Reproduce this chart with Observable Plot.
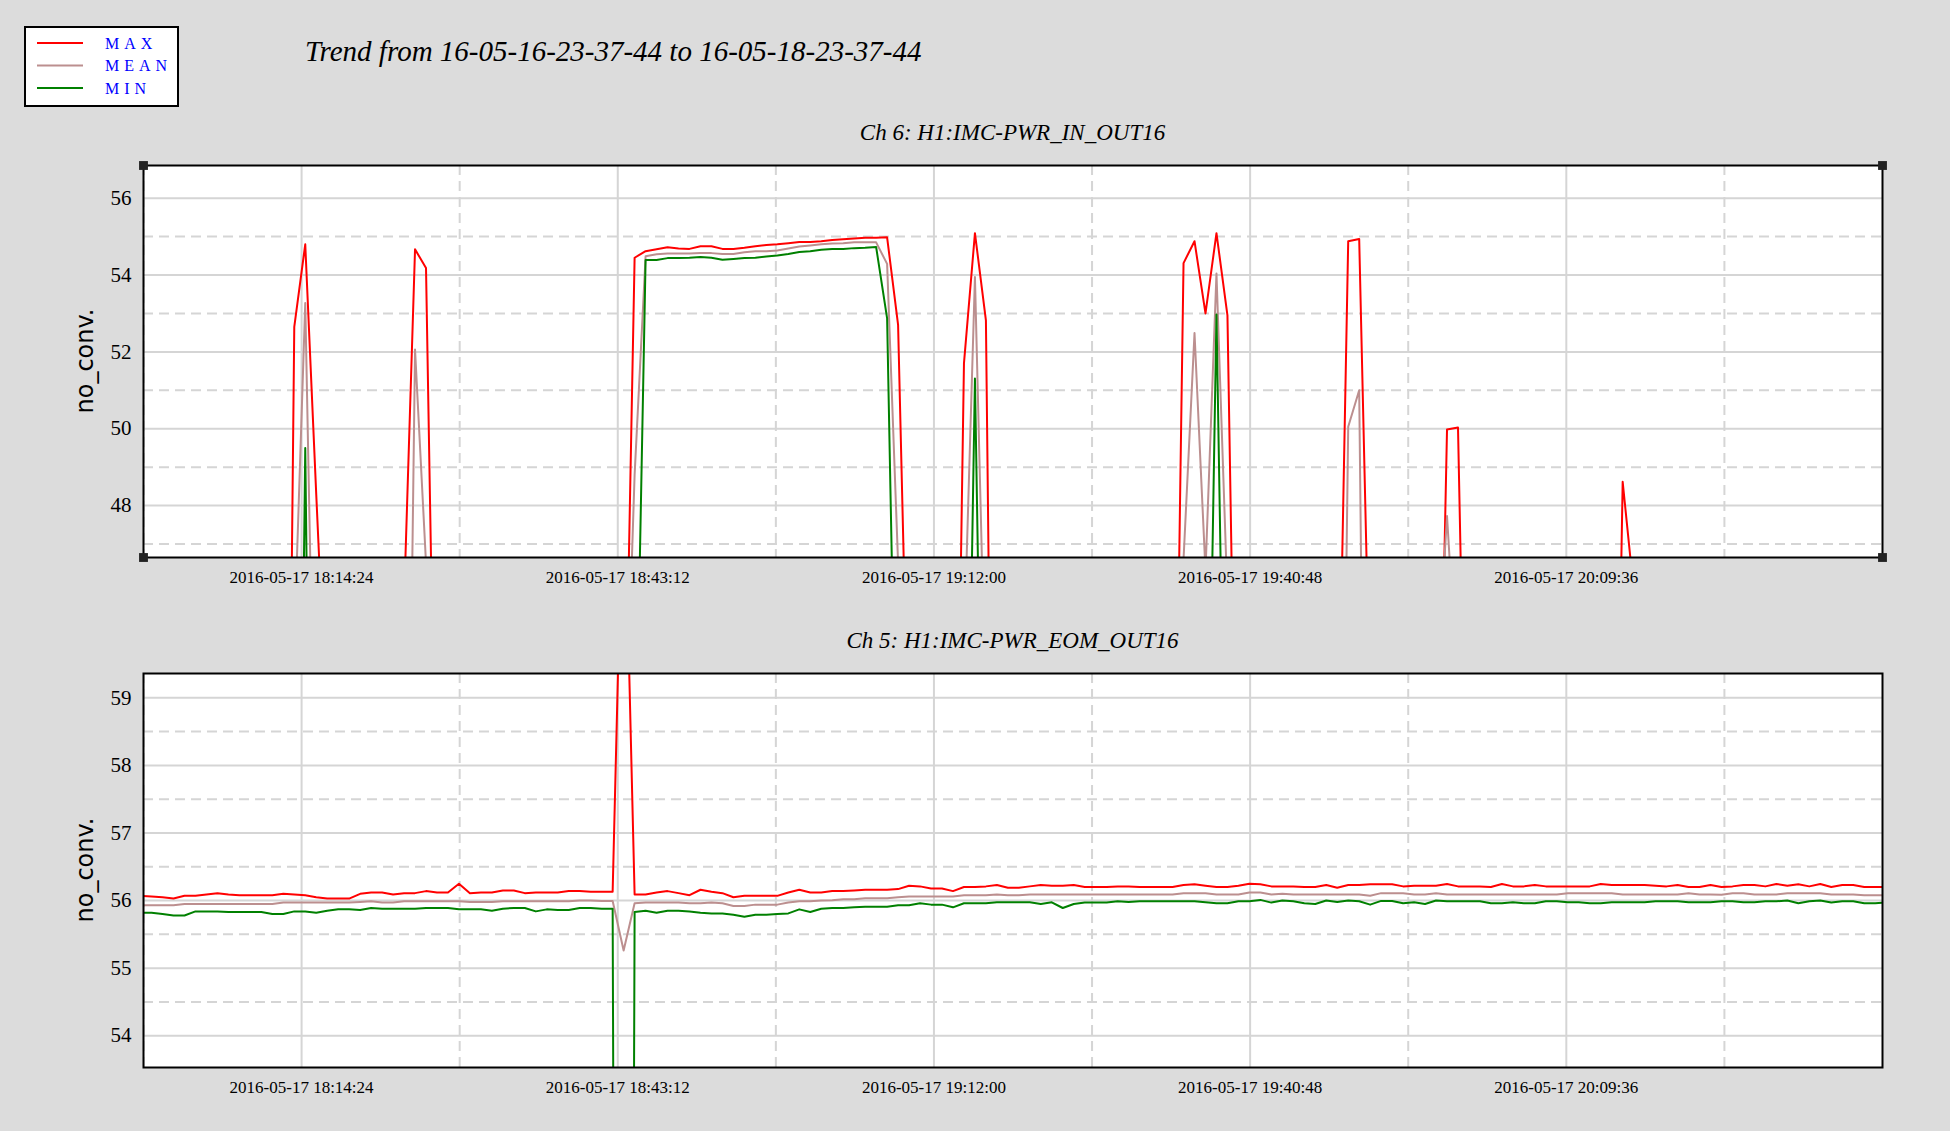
<!DOCTYPE html>
<html>
<head>
<meta charset="utf-8">
<script src="https://cdn.jsdelivr.net/npm/d3@7"></script>
<script src="https://cdn.jsdelivr.net/npm/@observablehq/plot@0.6"></script>
<style>
  html, body { margin: 0; padding: 0; background: #dcdcdc; }
  body { width: 1950px; height: 1131px; position: relative; overflow: hidden; }
  .chart { position: absolute; left: 0; }
  .chart svg text { font-family: 'Liberation Serif', 'Times New Roman', serif; }
  #overlay { position: absolute; left: 0; top: 0; pointer-events: none; }
</style>
</head>
<body>
<div id="top" class="chart" style="top:145px"></div>
<div id="bottom" class="chart" style="top:653px"></div>
<svg id="overlay" width="1950" height="1131"></svg>
<script>
// ---------- data ----------
const titleText = "Trend from 16-05-16-23-37-44 to 16-05-18-23-37-44";
const topChannel = "Ch 6: H1:IMC-PWR_IN_OUT16";
const bottomChannel = "Ch 5: H1:IMC-PWR_EOM_OUT16";
const yLabel = "no_conv.";
const seriesNames = ["MAX", "MEAN", "MIN"];
const seriesColors = ["#ff0000", "#bc8f8f", "#008000"];

// minute trend samples: index = minutes after sampleStart
const sampleStart = "2016-05-17T17:59:44Z";
const xStart = "2016-05-17T18:00:00Z";
const xEnd = "2016-05-17T20:38:24Z";
const xTickLabels = ["2016-05-17 18:14:24", "2016-05-17 18:43:12", "2016-05-17 19:12:00", "2016-05-17 19:40:48", "2016-05-17 20:09:36"];
const xMinorTicks = ["2016-05-17 18:00:00", "2016-05-17 18:28:48", "2016-05-17 18:57:36", "2016-05-17 19:26:24", "2016-05-17 19:55:12", "2016-05-17 20:24:00"];

// Ch 6 (sparse [minute, value]; values below the axis are off-scale lows)
const topMax = [[0,30],[13,25],[14,52.65],[15,54.8],[16,48.3],[17,42],[24,45.5],[25,54.67],[26,54.18],[27,37.6],
  [44,39.5],[45,54.45],[46,54.62],[47,54.67],[48,54.72],[49,54.69],[50,54.68],[51,54.75],[52,54.75],[53,54.68],[54,54.68],
  [55,54.71],[56,54.75],[57,54.78],[58,54.80],[59,54.83],[60,54.86],[61,54.86],[62,54.88],[63,54.91],[64,54.93],[65,54.95],
  [66,54.97],[67,54.97],[68,54.98],[69,52.7],[70,40.8],[74,33],[75,51.7],[76,55.09],[77,52.82],[78,27],
  [94,34.8],[95,54.31],[96,54.88],[97,53.0],[98,55.09],[99,52.95],[100,36],[109,39.8],[110,54.88],[111,54.94],[112,42.5],
  [118,36.2],[119,49.98],[120,50.03],[121,36],[134,32],[135,48.62],[136,45.8],[137,30],[159,30]];
const topMean = [[0,30],[14,44.5],[15,53.27],[16,38.7],[24,30],[25,52.06],[26,46.5],[27,30],
  [44,40],[45,48.8],[46,54.49],[47,54.54],[48,54.56],[49,54.56],[50,54.56],[51,54.57],[52,54.57],[53,54.55],[54,54.55],
  [55,54.59],[56,54.62],[57,54.62],[58,54.64],[59,54.69],[60,54.74],[61,54.77],[62,54.80],[63,54.82],[64,54.83],[65,54.85],
  [66,54.85],[67,54.85],[68,54.29],[69,46.5],[70,35],[75,44.3],[76,53.95],[77,42.4],
  [94,30],[95,46.6],[96,52.49],[97,46.3],[98,54.04],[99,45.6],[100,30],[109,28],[110,50.05],[111,51.0],[112,25],
  [118,43],[119,47.73],[120,43],[159,30]];
const topMin = [[0,30],[14,25],[15,49.5],[16,25],[44,30],[45,39.5],[46,54.39],[47,54.39],[48,54.44],[49,54.44],[50,54.45],
  [51,54.47],[52,54.45],[53,54.40],[54,54.42],[55,54.44],[56,54.45],[57,54.48],[58,54.51],[59,54.55],[60,54.60],[61,54.62],
  [62,54.66],[63,54.68],[64,54.68],[65,54.70],[66,54.71],[67,54.73],[68,52.87],[69,38.2],[75,34],[76,51.31],[77,34],
  [97,36],[98,52.97],[99,36],[159,30]];
const topDomain = [46.65, 56.85];
const topMajorY = [48, 50, 52, 54, 56];
const topMinorY = [47, 49, 51, 53, 55];

// Ch 5 (one value per minute, minutes 0..159)
const bottomMax = [56.07,56.06,56.05,56.03,56.07,56.07,56.09,56.11,56.09,56.08,
  56.08,56.08,56.08,56.10,56.09,56.08,56.05,56.03,56.03,56.03,
  56.10,56.12,56.12,56.09,56.11,56.11,56.14,56.12,56.12,56.25,
  56.11,56.12,56.12,56.15,56.15,56.11,56.12,56.12,56.12,56.14,
  56.14,56.13,56.13,56.13,62.8,56.09,56.09,56.12,56.14,56.11,
  56.08,56.16,56.13,56.11,56.05,56.07,56.07,56.07,56.07,56.12,
  56.16,56.12,56.12,56.14,56.14,56.15,56.16,56.16,56.16,56.17,
  56.22,56.21,56.18,56.18,56.14,56.20,56.20,56.21,56.23,56.19,
  56.19,56.21,56.23,56.22,56.22,56.23,56.20,56.20,56.20,56.21,
  56.21,56.20,56.20,56.20,56.20,56.23,56.24,56.22,56.20,56.20,
  56.22,56.25,56.24,56.21,56.21,56.21,56.20,56.20,56.23,56.19,
  56.23,56.23,56.24,56.24,56.24,56.21,56.22,56.22,56.22,56.245,
  56.21,56.21,56.21,56.20,56.245,56.21,56.21,56.23,56.21,56.21,
  56.21,56.21,56.21,56.245,56.23,56.23,56.23,56.23,56.22,56.21,
  56.23,56.20,56.20,56.23,56.20,56.21,56.23,56.23,56.21,56.245,
  56.22,56.24,56.21,56.245,56.20,56.23,56.23,56.20,56.20,56.20];
const bottomMean = [55.93,55.93,55.93,55.93,55.95,55.95,55.95,55.95,55.95,55.95,
  55.95,55.95,55.95,55.97,55.97,55.97,55.97,55.97,55.97,55.97,
  55.98,55.99,55.97,55.97,55.99,55.99,55.99,55.99,55.99,55.99,
  55.98,55.98,55.98,55.99,55.99,55.99,55.99,55.99,55.99,55.99,
  56.00,56.00,55.995,55.995,55.26,55.96,55.97,55.97,55.97,55.97,
  55.96,55.96,55.97,55.96,55.92,55.92,55.94,55.94,55.94,55.97,
  55.99,55.99,56.00,56.005,56.02,56.02,56.035,56.035,56.035,56.05,
  56.06,56.06,56.06,56.06,56.06,56.08,56.08,56.08,56.09,56.08,
  56.08,56.09,56.09,56.09,56.09,56.09,56.09,56.09,56.09,56.09,
  56.09,56.09,56.09,56.09,56.09,56.11,56.11,56.11,56.09,56.09,
  56.09,56.12,56.12,56.09,56.10,56.09,56.09,56.09,56.09,56.09,
  56.09,56.09,56.07,56.11,56.11,56.11,56.09,56.09,56.11,56.09,
  56.09,56.09,56.09,56.09,56.09,56.09,56.09,56.09,56.09,56.09,
  56.11,56.11,56.11,56.11,56.11,56.09,56.09,56.09,56.09,56.09,
  56.09,56.11,56.09,56.09,56.085,56.11,56.11,56.09,56.09,56.09,
  56.11,56.11,56.11,56.11,56.09,56.09,56.09,56.08,56.08,56.08];
const bottomMin = [55.82,55.82,55.80,55.78,55.78,55.84,55.84,55.84,55.83,55.83,
  55.83,55.83,55.80,55.80,55.84,55.84,55.82,55.85,55.87,55.87,
  55.86,55.89,55.88,55.88,55.88,55.88,55.89,55.89,55.89,55.87,
  55.87,55.87,55.85,55.88,55.89,55.89,55.84,55.87,55.86,55.86,
  55.89,55.89,55.88,55.88,10,55.83,55.85,55.82,55.85,55.85,
  55.84,55.82,55.81,55.81,55.79,55.76,55.79,55.79,55.80,55.81,
  55.87,55.83,55.88,55.89,55.89,55.90,55.91,55.91,55.91,55.93,
  55.93,55.96,55.94,55.94,55.90,55.96,55.96,55.96,55.975,55.975,
  55.975,55.975,55.95,55.975,55.89,55.95,55.97,55.97,55.97,55.99,
  55.98,55.99,55.99,55.99,55.99,55.99,55.99,55.975,55.96,55.96,
  55.99,55.99,56.01,55.97,56.00,55.99,55.96,55.95,56.00,55.98,
  56.00,55.99,55.94,55.995,55.995,55.96,55.975,55.95,56.00,55.99,
  55.99,55.99,55.99,55.96,55.96,55.975,55.96,55.96,55.99,55.99,
  55.975,55.975,55.96,55.96,55.975,55.975,55.975,55.975,55.99,55.99,
  55.99,55.975,55.975,55.975,55.99,55.99,55.975,55.975,55.99,55.99,
  56.00,55.96,55.99,56.00,55.97,55.99,55.99,55.96,55.96,55.97];
const bottomDomain = [53.53, 59.36];
const bottomMajorY = [54, 55, 56, 57, 58, 59];
const bottomMinorY = [54.5, 55.5, 56.5, 57.5, 58.5];

// ---------- helpers ----------
const t0 = new Date(sampleStart).getTime();
const minuteTime = m => new Date(t0 + m * 60000);
const parseLabel = s => new Date(s.replace(" ", "T") + "Z");
const fmt = d3.utcFormat("%Y-%m-%d %H:%M:%S");
const xDomain = [new Date(xStart), new Date(xEnd)];
const majorX = xTickLabels.map(parseLabel);
const minorX = xMinorTicks.map(parseLabel);
const gridColor = "#d5d5d5";
const serif = "'Liberation Serif', 'Times New Roman', serif";

function sparseRows(pairs) { return pairs.map(([m, v]) => ({t: minuteTime(m), v})); }
function denseRows(vals) { return vals.map((v, m) => ({t: minuteTime(m), v})); }

function makeChart({series, yDomain, majorY, minorY, height, corners, strokeWidth}) {
  const marks = [
    Plot.frame({fill: "white", stroke: null}),
    Plot.gridX(minorX, {stroke: gridColor, strokeOpacity: 1, strokeWidth: 2, strokeDasharray: "10,6"}),
    Plot.gridX(majorX, {stroke: gridColor, strokeOpacity: 1, strokeWidth: 2}),
    Plot.gridY(minorY, {stroke: gridColor, strokeOpacity: 1, strokeWidth: 2, strokeDasharray: "10,6"}),
    Plot.gridY(majorY, {stroke: gridColor, strokeOpacity: 1, strokeWidth: 2}),
    ...series.map((rows, i) => Plot.line(rows, {x: "t", y: "v", stroke: seriesColors[i], strokeWidth, clip: true})),
    Plot.frame({stroke: "black", strokeWidth: 2}),
    Plot.axisX(majorX, {tickSize: 0, tickPadding: 13, tickFormat: fmt, fontSize: 17, fontFamily: serif, label: null}),
    Plot.axisY(majorY, {tickSize: 0, tickPadding: 12, tickFormat: d => String(d), fontSize: 21, fontFamily: serif, label: null})
  ];
  if (corners) {
    const pts = [[xDomain[0], yDomain[0]], [xDomain[0], yDomain[1]], [xDomain[1], yDomain[0]], [xDomain[1], yDomain[1]]];
    marks.push(Plot.dot(pts, {x: d => d[0], y: d => d[1], symbol: "square", r: 5, fill: "#222", stroke: null}));
  }
  return Plot.plot({
    width: 1950, height,
    marginLeft: 143, marginRight: 68, marginTop: 20, marginBottom: 40,
    style: {background: "transparent", fontFamily: serif, color: "#000"},
    x: {type: "utc", domain: xDomain, label: null},
    y: {domain: yDomain, label: null},
    marks
  });
}

document.getElementById("top").appendChild(makeChart({
  series: [sparseRows(topMax), sparseRows(topMean), sparseRows(topMin)],
  yDomain: topDomain, majorY: topMajorY, minorY: topMinorY, height: 452, corners: true, strokeWidth: 2
}));
document.getElementById("bottom").appendChild(makeChart({
  series: [denseRows(bottomMax), denseRows(bottomMean), denseRows(bottomMin)],
  yDomain: bottomDomain, majorY: bottomMajorY, minorY: bottomMinorY, height: 454, corners: false, strokeWidth: 2
}));

// ---------- titles, axis labels, legend ----------
const ov = d3.select("#overlay");
ov.append("text").attr("x", 305).attr("y", 61).attr("font-family", serif).attr("font-style", "italic")
  .attr("font-size", 29).attr("fill", "#000").text(titleText);
ov.append("text").attr("x", 1012.5).attr("y", 140).attr("text-anchor", "middle").attr("font-family", serif)
  .attr("font-style", "italic").attr("font-size", 23).attr("fill", "#000").text(topChannel);
ov.append("text").attr("x", 1012.5).attr("y", 648).attr("text-anchor", "middle").attr("font-family", serif)
  .attr("font-style", "italic").attr("font-size", 23).attr("fill", "#000").text(bottomChannel);
[361, 870].forEach(cy => {
  ov.append("text").attr("transform", `translate(85,${cy}) rotate(-90)`).attr("text-anchor", "middle")
    .attr("dominant-baseline", "central").attr("font-family", "'DejaVu Sans', sans-serif").attr("font-size", 24)
    .attr("fill", "#000").text(yLabel);
});
const lg = ov.append("g");
lg.append("rect").attr("x", 25).attr("y", 27).attr("width", 153).attr("height", 79)
  .attr("fill", "#fff").attr("stroke", "#000").attr("stroke-width", 2);
seriesNames.forEach((name, i) => {
  const y = 43 + i * 22.5;
  lg.append("line").attr("x1", 37).attr("x2", 83).attr("y1", y).attr("y2", y)
    .attr("stroke", seriesColors[i]).attr("stroke-width", 2);
  lg.append("text").attr("x", 105).attr("y", y + 5.5).attr("font-family", serif).attr("font-size", 16)
    .attr("letter-spacing", "5px").attr("fill", "#0000ff").text(name);
});
</script>
</body>
</html>
